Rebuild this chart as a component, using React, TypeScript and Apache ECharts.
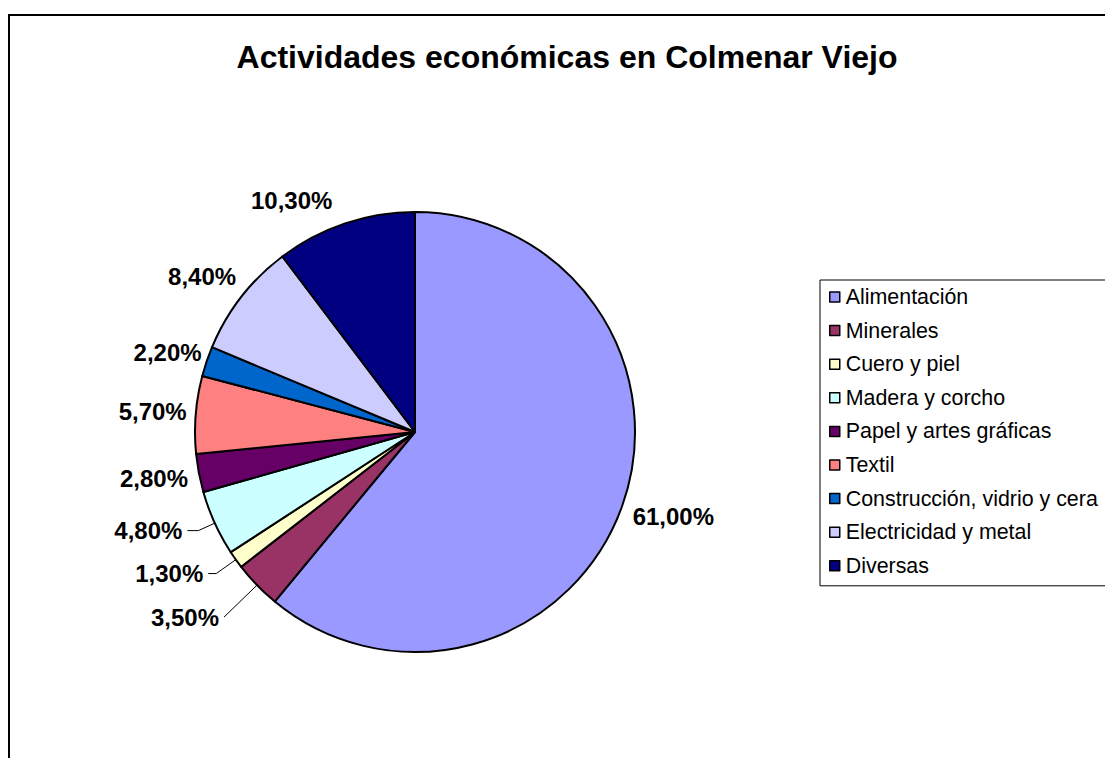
import React, { useEffect, useRef } from "react";
import * as echarts from "echarts";

const titleText = "Actividades económicas en Colmenar Viejo";
const categories = [
  "Alimentación",
  "Minerales",
  "Cuero y piel",
  "Madera y corcho",
  "Papel y artes gráficas",
  "Textil",
  "Construcción, vidrio y cera",
  "Electricidad y metal",
  "Diversas",
];
const values = [61.0, 3.5, 1.3, 4.8, 2.8, 5.7, 2.2, 8.4, 10.3];
const colors = [
  "#9999FF",
  "#993366",
  "#FFFFCC",
  "#CCFFFF",
  "#660066",
  "#FF8080",
  "#0066CC",
  "#CCCCFF",
  "#000080",
];
const withLeader = [false, true, true, true, false, false, false, false, false];

export default function App() {
  const ref = useRef<HTMLDivElement>(null);
  useEffect(() => {
    if (!ref.current) return;
    const chart = echarts.init(ref.current, null, { renderer: "svg" });
    const fmt = (v: number) => v.toFixed(2).replace(".", ",") + "%";
    // label placement tuning (styling only)
    const lineLen = [6, 46, 24, 18, 6, 4, 0, 0, 24];
    const lineLen2 = [0, 0, 8, 11, 0, 0, 0, 0, 0];
    const nudgeY = [8, 0, 0, 0, 4, -3, -9, -21, 0];
    const font = "Liberation Sans, Arial, sans-serif";
    chart.setOption({
      animation: false,
      backgroundColor: "#ffffff",
      title: {
        text: titleText,
        left: 562,
        textAlign: "center",
        top: 36,
        textStyle: {
          fontFamily: font,
          fontSize: 32,
          fontWeight: "bold",
          color: "#000",
        },
      },
      legend: {
        orient: "vertical",
        left: 820,
        top: 280,
        padding: [6.5, 20, 9.5, 9],
        borderColor: "#000",
        borderWidth: 1,
        itemWidth: 10,
        itemHeight: 10,
        itemGap: 12.6,
        icon: "rect",
        data: categories,
        itemStyle: { borderColor: "#000", borderWidth: 1.5 },
        textStyle: {
          fontFamily: font,
          fontSize: 21.4,
          color: "#000",
          padding: [0, 0, 0, 1],
          lineHeight: 21,
        },
      },
      graphic: [
        {
          type: "rect",
          shape: { x: 9, y: 15, width: 1200, height: 800 },
          style: { fill: "none", stroke: "#000", lineWidth: 2 },
          silent: true,
        },
      ],
      series: [
        {
          type: "pie",
          center: [415, 432],
          radius: 220,
          startAngle: 90,
          clockwise: true,
          avoidLabelOverlap: false,
          itemStyle: { borderColor: "#000", borderWidth: 2 },
          label: {
            show: true,
            position: "outside",
            formatter: (p: any) => fmt(p.value),
            fontFamily: font,
            fontSize: 24,
            fontWeight: "bold",
            color: "#000",
          },
          labelLine: {
            show: false,
            lineStyle: { color: "#000", width: 1 },
          },
          labelLayout: (p: any) => ({ dy: nudgeY[p.dataIndex] || 0 }),
          data: categories.map((name, i) => ({
            name,
            value: values[i],
            itemStyle: { color: colors[i] },
            labelLine: {
              show: withLeader[i],
              length: lineLen[i],
              length2: lineLen2[i],
            },
          })),
        },
      ],
    });
    return () => chart.dispose();
  }, []);
  return (
    <div
      ref={ref}
      style={{ position: "fixed", left: 0, top: 0, width: 1105, height: 758 }}
    />
  );
}
